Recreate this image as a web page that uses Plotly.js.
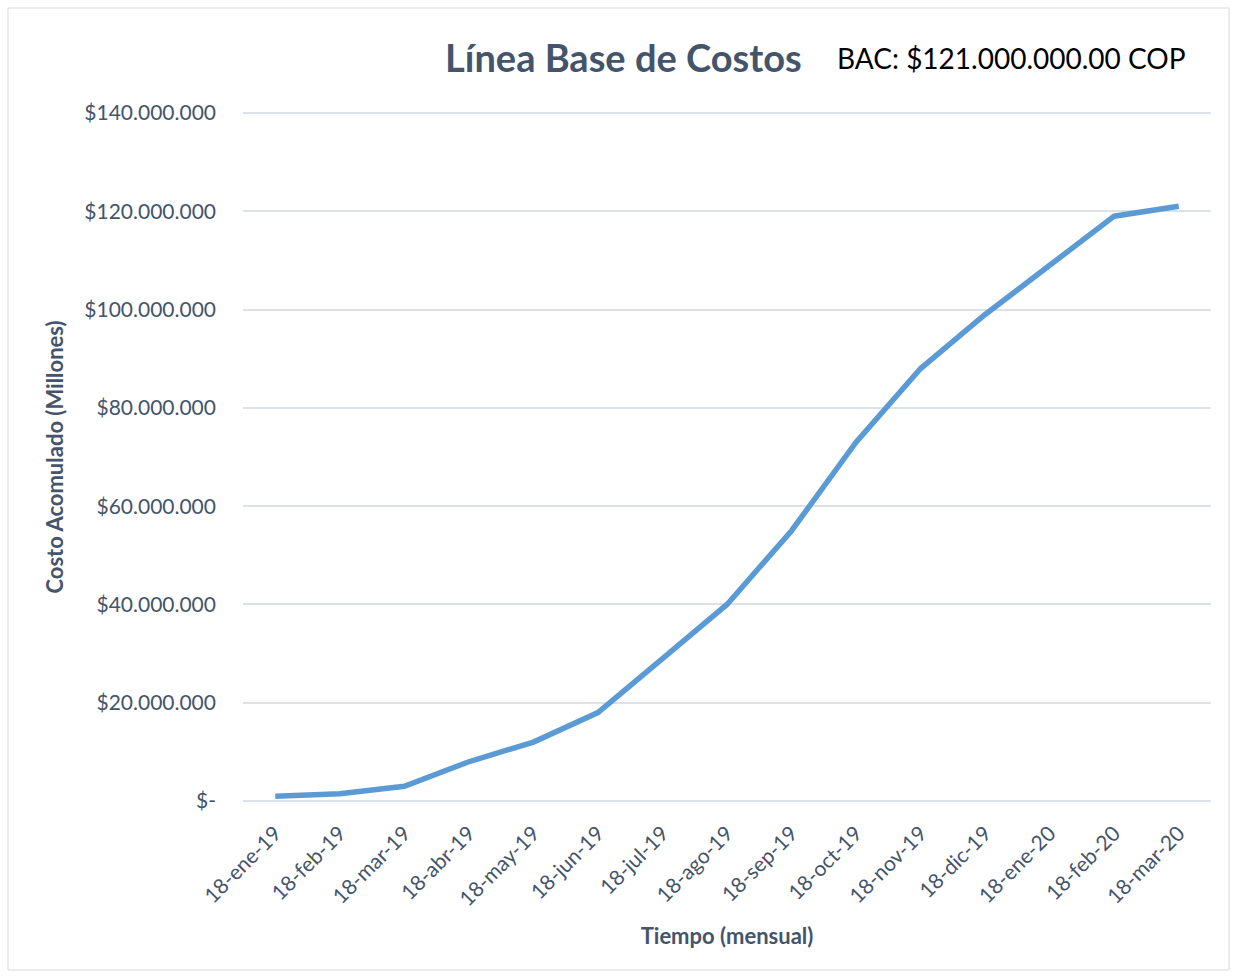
<!DOCTYPE html>
<html>
<head>
<meta charset="utf-8">
<script src="https://cdn.plot.ly/plotly-3.0.1.min.js"></script>
<style>html,body{margin:0;padding:0;background:#fff;}#chart{width:1238px;height:977px;}</style>
</head>
<body>
<div id="chart"></div>
<script>
const categories = ["18-ene-19","18-feb-19","18-mar-19","18-abr-19","18-may-19","18-jun-19","18-jul-19","18-ago-19","18-sep-19","18-oct-19","18-nov-19","18-dic-19","18-ene-20","18-feb-20","18-mar-20"];
const costoAcumulado = [1000000,1500000,3000000,8000000,12000000,18000000,29000000,40000000,55000000,73000000,88000000,99000000,109000000,119000000,121000000];
const yTickValues = [0,20000000,40000000,60000000,80000000,100000000,120000000,140000000];
const yTickLabels = ["$-","$20.000.000","$40.000.000","$60.000.000","$80.000.000","$100.000.000","$120.000.000","$140.000.000"];

const FONT = "Lato, 'Open Sans', sans-serif";
const SLATE = "#44546A";
const GRID = "#DDE1E8";

const trace = {
  x: categories,
  y: costoAcumulado,
  type: "scatter",
  mode: "lines",
  line: {color: "#5B9BD5", width: 5.5},
  hoverinfo: "x+y"
};

const T = 110, B = 173, H = 977 - T - B; // plot area
const py = (pix) => (977 - B - pix) / H;

const layout = {
  width: 1238, height: 977,
  margin: {l: 243, r: 27, t: T, b: B},
  paper_bgcolor: "#ffffff",
  plot_bgcolor: "#ffffff",
  showlegend: false,
  font: {family: FONT, color: SLATE},
  xaxis: {
    type: "category",
    range: [-0.5, 14.5],
    tickangle: -45,
    tickfont: {family: FONT, size: 21, color: SLATE},
    ticklabelstandoff: 12,
    showgrid: false,
    zeroline: false,
    showline: false,
    ticks: "",
    title: {text: "<b>Tiempo (mensual)</b>", font: {family: FONT, size: 22, color: SLATE}, standoff: 19}
  },
  yaxis: {
    range: [-600000, 140600000],
    tickvals: yTickValues,
    ticktext: yTickLabels,
    tickfont: {family: FONT, size: 21, color: SLATE},
    ticklabelstandoff: 26,
    gridcolor: GRID,
    gridwidth: 2,
    zeroline: true,
    zerolinecolor: GRID,
    zerolinewidth: 2,
    showline: false,
    ticks: "",
    automargin: false,
    title: {text: "<b>Costo Acomulado (Millones)</b>", font: {family: FONT, size: 22, color: SLATE}, standoff: 14}
  },
  annotations: [
    {text: "<b>Línea Base de Costos</b>", xref: "paper", yref: "paper", x: (623-243)/968, y: py(57), xanchor: "center", yanchor: "middle", showarrow: false, font: {family: FONT, size: 38, color: SLATE}},
    {text: "BAC: $121.000.000.00 COP", xref: "paper", yref: "paper", x: (1011-243)/968, y: py(58), xanchor: "center", yanchor: "middle", showarrow: false, font: {family: FONT, size: 28, color: "#000000"}}
  ],
  shapes: [
    {type: "rect", xref: "paper", yref: "paper", x0: (8-243)/968, x1: (1229-243)/968, y0: py(970), y1: py(8), line: {color: "#D9D9D9", width: 1}, fillcolor: "rgba(0,0,0,0)", layer: "below"}
  ]
};

Plotly.newPlot("chart", [trace], layout, {displayModeBar: false, staticPlot: true});
</script>
</body>
</html>
